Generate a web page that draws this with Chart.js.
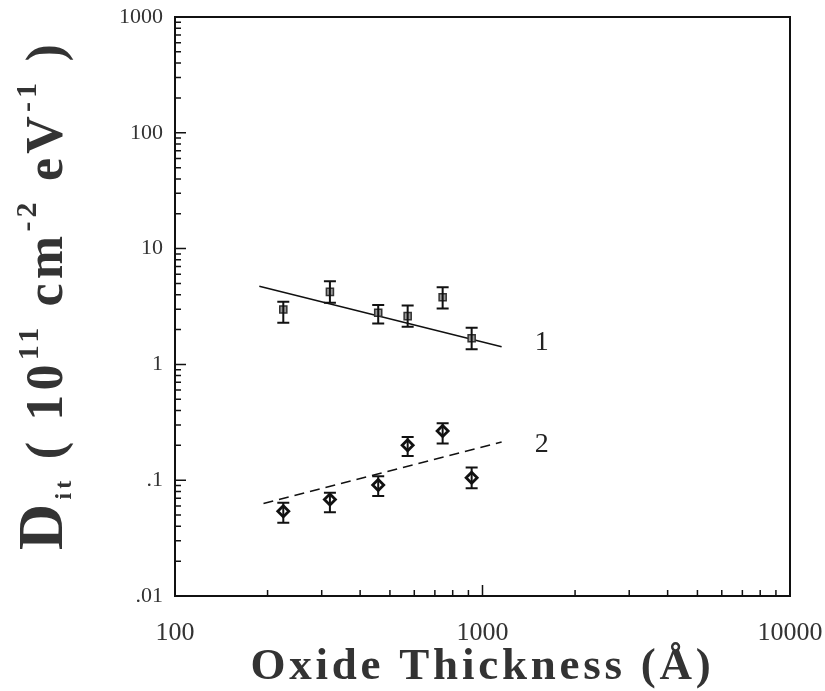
<!DOCTYPE html>
<html>
<head>
<meta charset="utf-8">
<script src="https://cdn.jsdelivr.net/npm/chart.js@4"></script>
<style>
  body { margin: 0; background: #fff; }
  canvas { display: block; }
</style>
</head>
<body>
<canvas id="myChart" width="825" height="691"></canvas>
<script>
// Data

const thickness = [225, 319, 458, 571, 742, 922];        // Oxide thickness (A)

const dit1   = [2.98, 4.23, 2.79, 2.61, 3.80, 1.68];     // curve 1 (squares)
const dit1Lo = [2.29, 3.40, 2.26, 2.11, 3.04, 1.35];
const dit1Hi = [3.47, 5.23, 3.25, 3.22, 4.64, 2.07];

const dit2   = [0.054, 0.068, 0.091, 0.200, 0.266, 0.105]; // curve 2 (diamonds)
const dit2Lo = [0.043, 0.053, 0.073, 0.162, 0.207, 0.085];
const dit2Hi = [0.064, 0.078, 0.108, 0.236, 0.310, 0.129];

// fitted lines (end points)
const fit1X = [188, 1154];
const fit1Y = [4.73, 1.42];
const fit2X = [194, 1154];
const fit2Y = [0.063, 0.214];

// curve labels
const curveNames = ["1", "2"];
const curveLabelX = 1480;
const curveLabelY = [1.55, 0.204];

// ticks
const xTicks = [100, 1000, 10000];
const xTickLabels = ["100", "1000", "10000"];
const yTicks = [0.01, 0.1, 1, 10, 100, 1000];
const yTickLabels = [".01", ".1", "1", "10", "100", "1000"];

// Helpers

const SERIF = "'Liberation Serif', 'DejaVu Serif', serif";

function toPoints(xs, ys) {
  return xs.map((x, i) => ({x: x, y: ys[i]}));
}

// fit text of a run list into a given length using letter spacing
function drawRuns(ctx, runs, x0, y0, target) {
  let natural = 0, chars = 0;
  runs.forEach(r => {
    ctx.font = r.weight + " " + r.size + "px " + SERIF;
    ctx.letterSpacing = "0px";
    r.w = ctx.measureText(r.text).width;
    natural += r.w;
    chars += r.text.length;
  });
  const ls = Math.max(0, (target - natural) / chars);
  let x = x0;
  runs.forEach(r => {
    ctx.font = r.weight + " " + r.size + "px " + SERIF;
    ctx.letterSpacing = ls + "px";
    ctx.fillText(r.text, x, y0 - (r.shift || 0));
    x += r.w + ls * r.text.length;
  });
  ctx.letterSpacing = "0px";
}

// Plugins

const framePlugin = {
  id: "frame",
  beforeDraw(chart) {
    const c = chart.ctx;
    c.save();
    c.fillStyle = "#fff";
    c.fillRect(0, 0, chart.width, chart.height);
    c.restore();
  },
  afterDraw(chart) {
    const c = chart.ctx;
    const a = chart.chartArea;
    const xs = chart.scales.x, ys = chart.scales.y;
    c.save();
    c.strokeStyle = "#111";
    c.lineWidth = 2;
    c.strokeRect(a.left, a.top, a.right - a.left, a.bottom - a.top);

    // inner ticks on left and bottom axes
    c.lineWidth = 1.5;
    c.beginPath();
    for (let d = -2; d < 3; d++) {
      for (let m = 1; m < 10; m++) {
        const v = m * Math.pow(10, d);
        const py = ys.getPixelForValue(v);
        const len = (m === 1) ? 11 : 6;
        c.moveTo(a.left, py);
        c.lineTo(a.left + len, py);
      }
    }
    for (let d = 2; d < 4; d++) {
      for (let m = 1; m < 10; m++) {
        const v = m * Math.pow(10, d);
        const px = xs.getPixelForValue(v);
        const len = (m === 1) ? 11 : 6;
        c.moveTo(px, a.bottom);
        c.lineTo(px, a.bottom - len);
      }
    }
    c.stroke();

    // curve labels
    c.fillStyle = "#222";
    c.font = "28px " + SERIF;
    c.textAlign = "left";
    c.textBaseline = "middle";
    curveNames.forEach((n, i) => {
      c.fillText(n, xs.getPixelForValue(curveLabelX), ys.getPixelForValue(curveLabelY[i]));
    });

    // x title
    c.fillStyle = "#333";
    c.textBaseline = "alphabetic";
    const xRuns = [{text: "Oxide Thickness (\u00C5)", size: 45, weight: "bold"}];
    const target = 464;
    drawRuns(c, xRuns, (a.left + a.right) / 2 - target / 2, 679, target);

    // y title, rotated
    c.save();
    c.translate(62, 550);
    c.rotate(-Math.PI / 2);
    const yRuns = [
      {text: "D", size: 64, weight: "bold"},
      {text: "it", size: 24, weight: "bold", shift: -9},
      {text: " ( 10", size: 52, weight: "bold"},
      {text: "11", size: 30, weight: "bold", shift: 24},
      {text: " cm", size: 52, weight: "bold"},
      {text: "-2", size: 30, weight: "bold", shift: 26},
      {text: " eV", size: 52, weight: "bold"},
      {text: "-1", size: 30, weight: "bold", shift: 26},
      {text: " )", size: 52, weight: "bold"}
    ];
    drawRuns(c, yRuns, 0, 0, 510);
    c.restore();

    c.restore();
  }
};

const errorBarPlugin = {
  id: "errorBars",
  afterDatasetsDraw(chart) {
    const c = chart.ctx;
    const xs = chart.scales.x, ys = chart.scales.y;
    c.save();
    c.strokeStyle = "#111";
    c.lineWidth = 2;
    [[dit1Lo, dit1Hi], [dit2Lo, dit2Hi]].forEach(pair => {
      thickness.forEach((t, i) => {
        const px = xs.getPixelForValue(t);
        const lo = ys.getPixelForValue(pair[0][i]);
        const hi = ys.getPixelForValue(pair[1][i]);
        c.beginPath();
        c.moveTo(px, lo); c.lineTo(px, hi);
        c.moveTo(px - 6, lo); c.lineTo(px + 6, lo);
        c.moveTo(px - 6, hi); c.lineTo(px + 6, hi);
        c.stroke();
      });
    });
    c.restore();
  }
};

// Chart setup

const ctx = document.getElementById("myChart").getContext("2d");

const myChart = new Chart(ctx, {
  type: "scatter",
  data: {
    datasets: [
      {
        label: "fit 1",
        data: toPoints(fit1X, fit1Y),
        showLine: true,
        borderColor: "#111",
        borderWidth: 1.5,
        pointRadius: 0,
        order: 3
      },
      {
        label: "fit 2",
        data: toPoints(fit2X, fit2Y),
        showLine: true,
        borderColor: "#111",
        borderWidth: 1.5,
        borderDash: [10, 6],
        pointRadius: 0,
        order: 3
      },
      {
        label: "1",
        data: toPoints(thickness, dit1),
        pointStyle: "rect",
        pointRadius: 5,
        backgroundColor: "#9a9a9a",
        borderColor: "#333",
        borderWidth: 1.5,
        order: 1
      },
      {
        label: "2",
        data: toPoints(thickness, dit2),
        pointStyle: "rectRot",
        pointRadius: 5.5,
        backgroundColor: "#fff",
        borderColor: "#111",
        borderWidth: 2.8,
        order: 1
      }
    ]
  },
  options: {
    responsive: false,
    animation: false,
    layout: {padding: {top: 17, right: 35, left: 0, bottom: 0}},
    plugins: {
      legend: {display: false},
      tooltip: {enabled: false}
    },
    scales: {
      x: {
        type: "logarithmic",
        min: 100,
        max: 10000,
        grid: {display: false},
        border: {display: false},
        afterBuildTicks: s => { s.ticks = xTicks.map(v => ({value: v, major: true})); },
        afterFit: s => { s.height = 95; s.paddingLeft = 0; s.paddingRight = 0; },
        ticks: {
          autoSkip: false,
          maxRotation: 0,
          padding: 14,
          color: "#333",
          font: {family: SERIF, size: 26},
          callback: v => xTickLabels[xTicks.indexOf(v)]
        }
      },
      y: {
        type: "logarithmic",
        min: 0.01,
        max: 1000,
        grid: {display: false},
        border: {display: false},
        afterBuildTicks: s => { s.ticks = yTicks.map(v => ({value: v, major: true})); },
        afterFit: s => { s.width = 175; s.paddingTop = 0; s.paddingBottom = 0; },
        ticks: {
          autoSkip: false,
          padding: 4,
          color: "#333",
          font: {family: SERIF, size: 22},
          callback: v => {
            const i = yTicks.findIndex(t => Math.abs(t - v) / t < 1e-6);
            return i >= 0 ? yTickLabels[i] : "";
          }
        }
      }
    }
  },
  plugins: [framePlugin, errorBarPlugin]
});
</script>
</body>
</html>
